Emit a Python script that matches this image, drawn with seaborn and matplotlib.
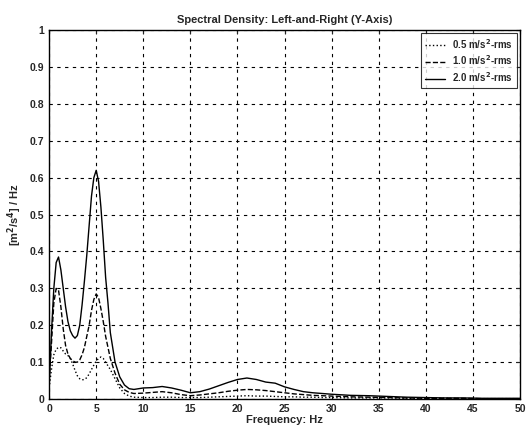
import numpy as np
import pandas as pd
import seaborn as sns
import matplotlib.pyplot as plt

# Frequency points (Hz)
freq = [0, 0.25, 0.5, 0.75, 1.0, 1.25, 1.5, 1.75, 2.0, 2.25, 2.5, 2.75, 3.0, 3.25, 3.5,
        3.75, 4.0, 4.25, 4.5, 4.75, 5.0, 5.25, 5.5, 5.75, 6.0, 6.25, 6.5, 7.0, 7.5, 8.0,
        8.5, 9, 10, 11, 12, 13, 14, 15, 16, 17, 18, 19, 20, 21, 22, 23, 24, 25, 26, 27,
        28, 29, 30, 32, 34, 36, 38, 40, 42, 44, 46, 48, 50]

# PSD for 0.5 m/s^2-rms (dotted)
psd_05 = [0.03, 0.08, 0.12, 0.135, 0.14, 0.139, 0.13, 0.122, 0.118, 0.11, 0.095, 0.078, 0.063, 0.055, 0.052,
          0.053, 0.058, 0.068, 0.08, 0.092, 0.103, 0.11, 0.114, 0.11, 0.1, 0.09, 0.08, 0.055, 0.03, 0.015,
          0.008, 0.005, 0.004, 0.004, 0.005, 0.005, 0.004, 0.004, 0.004, 0.005, 0.006, 0.007, 0.008, 0.009, 0.008, 0.008, 0.007, 0.006, 0.006, 0.005,
          0.005, 0.004, 0.004, 0.003, 0.003, 0.003, 0.002, 0.002, 0.002, 0.001, 0.001, 0.001, 0.001]

# PSD for 1.0 m/s^2-rms (dashed)
psd_10 = [0.05, 0.15, 0.26, 0.3, 0.295, 0.25, 0.19, 0.145, 0.122, 0.11, 0.104, 0.1, 0.1, 0.106, 0.12,
          0.14, 0.17, 0.2, 0.24, 0.27, 0.285, 0.275, 0.245, 0.21, 0.17, 0.14, 0.11, 0.07, 0.04, 0.025,
          0.018, 0.015, 0.016, 0.018, 0.02, 0.017, 0.012, 0.009, 0.011, 0.014, 0.017, 0.021, 0.024, 0.026, 0.025, 0.023, 0.02, 0.017, 0.014, 0.012,
          0.01, 0.009, 0.008, 0.006, 0.005, 0.004, 0.003, 0.002, 0.002, 0.002, 0.001, 0.001, 0.001]

# PSD for 2.0 m/s^2-rms (solid)
psd_20 = [0.03, 0.18, 0.3, 0.37, 0.385, 0.35, 0.3, 0.25, 0.21, 0.185, 0.172, 0.165, 0.172, 0.2, 0.255,
          0.32, 0.39, 0.47, 0.55, 0.6, 0.62, 0.59, 0.52, 0.43, 0.33, 0.26, 0.18, 0.1, 0.06, 0.038,
          0.028, 0.026, 0.03, 0.031, 0.034, 0.03, 0.024, 0.017, 0.02, 0.027, 0.036, 0.045, 0.053, 0.057, 0.053, 0.046, 0.043, 0.033, 0.026, 0.02,
          0.017, 0.015, 0.013, 0.01, 0.009, 0.007, 0.005, 0.004, 0.003, 0.003, 0.002, 0.002, 0.002]

labels = ['0.5 m/s$^2$-rms', '1.0 m/s$^2$-rms', '2.0 m/s$^2$-rms']
styles = [':', '--', '-']

sns.set_style("white")
plt.rcParams['font.family'] = ['Liberation Sans', 'DejaVu Sans']
plt.rcParams['font.weight'] = 'bold'

fig = plt.figure(figsize=(5.28, 4.30), dpi=100)
ax = fig.add_axes([0.093, 0.072, 0.892, 0.858])

for vals, lab, ls in zip([psd_05, psd_10, psd_20], labels, styles):
    sns.lineplot(x=freq, y=vals, ax=ax, color='black', linestyle=ls, linewidth=1.0, label=lab)

ax.set_xlim(0, 50)
ax.set_ylim(0, 1)
ax.set_xticks(np.arange(0, 51, 5))
ax.set_yticks(np.arange(0, 1.01, 0.1))
ax.set_yticklabels(['0', '0.1', '0.2', '0.3', '0.4', '0.5', '0.6', '0.7', '0.8', '0.9', '1'])
ax.grid(True, color='black', linestyle=(0, (3, 4)), linewidth=0.8)
ax.tick_params(direction='in', top=True, right=True, length=3, labelsize=7.5)
for sp in ax.spines.values():
    sp.set_color('black')
    sp.set_linewidth(1.0)

ax.set_title('Spectral Density: Left-and-Right (Y-Axis)', fontsize=8, fontweight='bold', pad=5)
ax.set_xlabel('Frequency: Hz', fontsize=8, fontweight='bold', labelpad=1)
ax.set_ylabel('[m$^2$/s$^4$] / Hz', fontsize=8, fontweight='bold', labelpad=4)

leg = ax.legend(loc='upper right', fontsize=7, frameon=True, fancybox=False,
                edgecolor='black', handlelength=2.0, borderaxespad=0.3, labelspacing=0.3)
leg.get_frame().set_linewidth(0.8)

fig.savefig('out.png', dpi=100)
